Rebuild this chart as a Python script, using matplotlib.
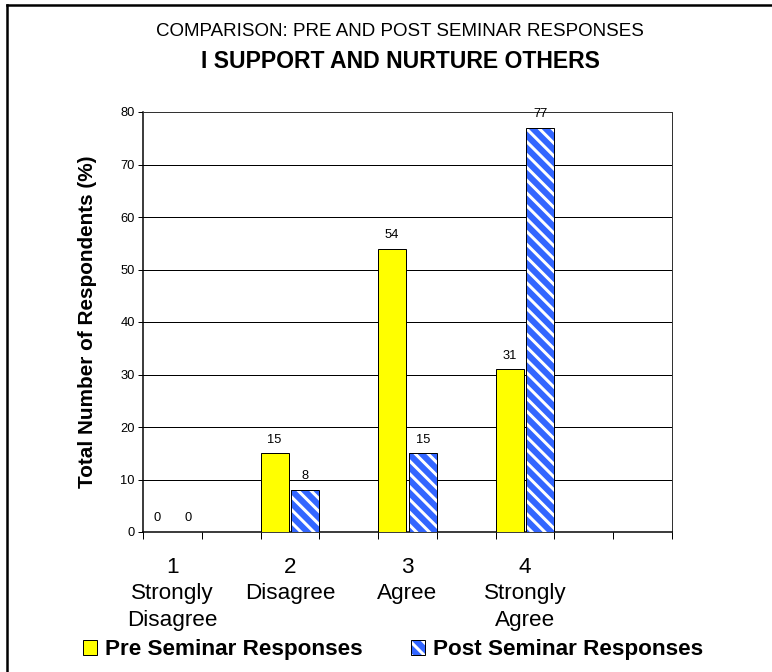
import numpy as np
import matplotlib
matplotlib.use("Agg")
import matplotlib.pyplot as plt
from matplotlib.patches import Patch
from matplotlib.lines import Line2D
from matplotlib.legend_handler import HandlerTuple

# survey results (%)
categories = ["1\nStrongly\nDisagree", "2\nDisagree", "3\nAgree", "4\nStrongly\nAgree"]
pre_seminar = [0, 15, 54, 31]
post_seminar = [0, 8, 15, 77]
yticks = np.arange(0, 81, 10)

DPI = 77.2
PX = 72 / DPI  # points per pixel

plt.rcParams['font.family'] = ['Liberation Sans', 'DejaVu Sans']
plt.rcParams['hatch.color'] = 'white'
plt.rcParams['hatch.linewidth'] = 3.0 * PX

YELLOW = '#FFFF00'
BLUE = '#3366FF'

fig = plt.figure(figsize=(772 / DPI, 672 / DPI), dpi=DPI)
ax = fig.add_axes([143 / 772, 1 - 532 / 672, 529 / 772, 420 / 672])

# each response sits in every other slot, nine slots in all
x = np.arange(len(categories)) * 2
w = 0.48

ax.bar(x - 0.5, pre_seminar, width=w, align='edge', color=YELLOW,
       edgecolor='black', linewidth=1.0 * PX, zorder=3)
ax.bar(x + 0.5 - w, post_seminar, width=w, align='edge', color=BLUE,
       hatch='\\\\', zorder=3)
ax.bar(x + 0.5 - w, post_seminar, width=w, align='edge', fill=False,
       edgecolor='black', linewidth=1.0 * PX, zorder=4)

for xi, v in zip(x - 0.5 + w / 2, pre_seminar):
    ax.annotate(str(v), (xi, v), xytext=(0, 7), textcoords='offset points',
                ha='center', va='bottom', fontsize=12)
for xi, v in zip(x + 0.5 - w / 2, post_seminar):
    ax.annotate(str(v), (xi, v), xytext=(0, 7), textcoords='offset points',
                ha='center', va='bottom', fontsize=12)

ax.set_xlim(-0.5, 8.5)
ax.set_ylim(0, 80)
ax.set_yticks(yticks)
ax.tick_params(axis='y', length=5 * PX, width=1 * PX, pad=3, labelsize=12.0)
ax.grid(axis='y', color='black', linewidth=1.0 * PX, zorder=0)
ax.set_axisbelow(True)

ax.set_xticks(x)
ax.set_xticklabels(categories, fontsize=21, linespacing=1.35)
ax.set_xticks(np.arange(-0.5, 9, 1), minor=True)
ax.tick_params(axis='x', which='major', length=0, pad=23)
ax.tick_params(axis='x', which='minor', length=7 * PX, width=1 * PX)

for s in ax.spines.values():
    s.set_linewidth(1.0 * PX)
    s.set_color('#333333')
ax.spines['left'].set_color('black')
ax.spines['bottom'].set_color('black')
ax.spines['left'].set_linewidth(1.5 * PX)
ax.spines['bottom'].set_linewidth(1.5 * PX)

fig.text(400 / 772, 1 - 32 / 672, "COMPARISON: PRE AND POST SEMINAR RESPONSES",
         ha='center', va='center', fontsize=17.5)
fig.text(400 / 772, 1 - 62 / 672, "I SUPPORT AND NURTURE OTHERS",
         ha='center', va='center', fontsize=21.5, fontweight='bold')
fig.text(88 / 772, 1 - 322 / 672, "Total Number of Respondents (%)",
         ha='center', va='center', rotation=90, fontsize=19.4, fontweight='bold')

pre_handle = Patch(facecolor=YELLOW, edgecolor='black', linewidth=1.0 * PX)
post_handle = (Patch(facecolor=BLUE, hatch='\\\\'),
               Patch(fill=False, edgecolor='black', linewidth=1.0 * PX))
fig.legend([pre_handle, post_handle],
           ["Pre Seminar Responses", "Post Seminar Responses"],
           handler_map={tuple: HandlerTuple(ndivide=1, pad=0)},
           loc='center left', bbox_to_anchor=(83 / 772, 1 - 650 / 672),
           ncol=2, frameon=False, borderpad=0, borderaxespad=0,
           prop={'weight': 'bold', 'size': 21},
           handlelength=0.62, handleheight=0.62, handletextpad=0.36,
           columnspacing=2.15)

# chart border, only the top and left edges fall inside the image
top = 1 - 4.5 / 672
left = 7 / 772
fig.add_artist(Line2D([left, 1.0], [top, top], transform=fig.transFigure,
                      color='black', linewidth=2.5 * PX,
                      solid_capstyle='projecting'))
fig.add_artist(Line2D([left, left], [0.0, top], transform=fig.transFigure,
                      color='black', linewidth=2.5 * PX,
                      solid_capstyle='projecting'))

fig.savefig("out.png", dpi=DPI)
